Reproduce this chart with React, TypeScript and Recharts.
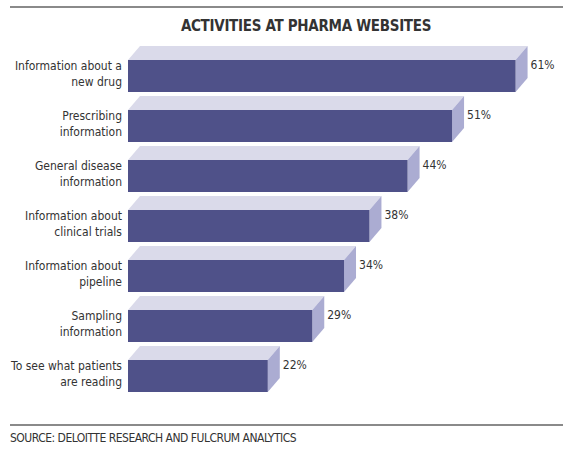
import React from "react";
import { BarChart, Bar, XAxis, YAxis, LabelList } from "recharts";

const categories: string[] = [
  "Information about a\nnew drug",
  "Prescribing\ninformation",
  "General disease\ninformation",
  "Information about\nclinical trials",
  "Information about\npipeline",
  "Sampling\ninformation",
  "To see what patients\nare reading",
];
const values: number[] = [61, 51, 44, 38, 34, 29, 22];
const valueLabels: string[] = ["61%", "51%", "44%", "38%", "34%", "29%", "22%"];
const title = "ACTIVITIES AT PHARMA WEBSITES";
const source = "SOURCE: DELOITTE RESEARCH AND FULCRUM ANALYTICS";

const data = categories.map((name, i) => ({ name, value: values[i], label: valueLabels[i] }));

const FONT = "'Liberation Sans Narrow', 'DejaVu Sans Condensed', 'Arial Narrow', sans-serif";
const DX = 12;
const DY = 14;
const FRONT = "#4f5189";
const TOP = "#dadaea";
const SIDE = "#abacd2";

const Bar3D = (props: any) => {
  const { x, y, width, height } = props;
  const top = `${x},${y} ${x + DX},${y - DY} ${x + width + DX},${y - DY} ${x + width},${y}`;
  const side = `${x + width},${y} ${x + width + DX},${y - DY} ${x + width + DX},${y + height - DY} ${x + width},${y + height}`;
  return (
    <g>
      <polygon points={top} fill={TOP} />
      <polygon points={side} fill={SIDE} />
      <rect x={x} y={y} width={width} height={height} fill={FRONT} />
    </g>
  );
};

const Tick = (props: any) => {
  const { y, payload } = props;
  const lines = String(payload.value).split("\n");
  return (
    <text x={122} y={y} textAnchor="end" fontFamily={FONT} fontSize={12} fill="#333">
      {lines.map((l, i) => (
        <tspan key={i} x={122} y={y + (i - (lines.length - 1) / 2) * 16 + 2}>
          {l}
        </tspan>
      ))}
    </text>
  );
};

const ValueLabel = (props: any) => {
  const { x, y, width, height, value } = props;
  return (
    <text x={x + width + DX + 3} y={y + height / 2 - 7} fontFamily={FONT} fontSize={12} fill="#333">
      {value}
    </text>
  );
};

export default function App() {
  return (
    <div style={{ position: "absolute", left: 0, top: 0, width: 563, height: 449, background: "#fff" }}>
      <div style={{ position: "absolute", left: 10, top: 6, width: 553, height: 2, background: "#8a8a8a" }} />
      <div
        style={{
          position: "absolute",
          left: 0,
          width: 612,
          top: 17,
          textAlign: "center",
          fontFamily: FONT,
          fontWeight: "bold",
          fontSize: 15,
          letterSpacing: -0.3,
          color: "#333",
          whiteSpace: "nowrap",
        }}
      >
        {title}
      </div>
      <div style={{ position: "absolute", left: 0, top: 0 }}>
        <BarChart
          width={563}
          height={449}
          data={data}
          layout="vertical"
          margin={{ top: 51, right: 22, bottom: 48, left: 8 }}
          barSize={32}
        >
          <XAxis type="number" domain={[0, 65]} hide />
          <YAxis type="category" dataKey="name" width={120} axisLine={false} tickLine={false} tick={<Tick />} interval={0} />
          <Bar dataKey="value" shape={<Bar3D />} isAnimationActive={false}>
            <LabelList dataKey="label" content={<ValueLabel />} />
          </Bar>
        </BarChart>
      </div>
      <div style={{ position: "absolute", left: 10, top: 424, width: 553, height: 2, background: "#8a8a8a" }} />
      <div
        style={{
          position: "absolute",
          left: 10,
          top: 431,
          fontFamily: FONT,
          fontSize: 12,
          letterSpacing: -0.5,
          color: "#333",
          whiteSpace: "nowrap",
        }}
      >
        {source}
      </div>
    </div>
  );
}
